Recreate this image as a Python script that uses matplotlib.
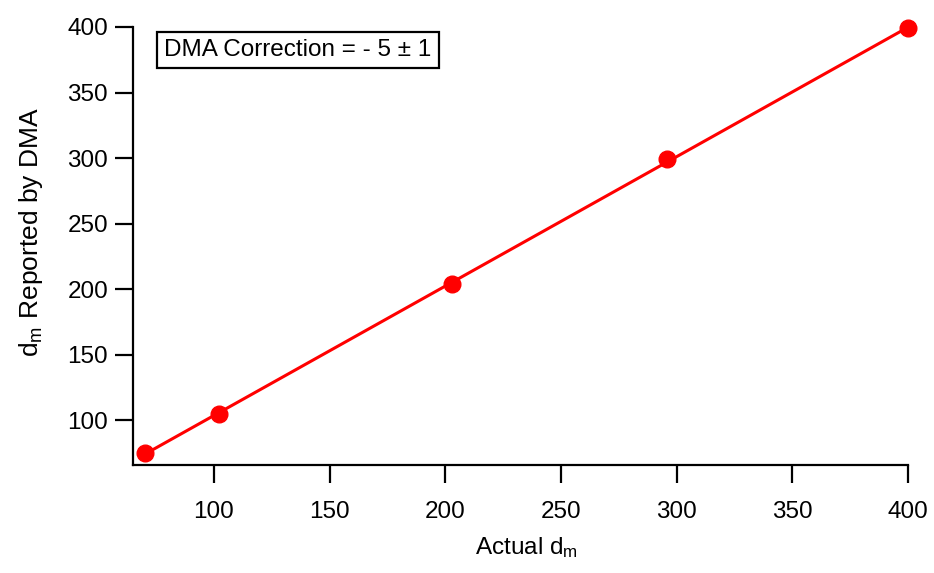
import numpy as np
import matplotlib
matplotlib.use("Agg")
import matplotlib.pyplot as plt

plt.rcParams['font.family'] = ['Liberation Sans', 'DejaVu Sans']
plt.rcParams['mathtext.fontset'] = 'custom'
plt.rcParams['mathtext.rm'] = 'Liberation Sans'
plt.rcParams['mathtext.it'] = 'Liberation Sans'

# Calibration data: actual mobility diameter vs. value reported by the DMA
actual_dm = [70, 102, 203, 296, 400]
reported_dm = [75, 105, 204, 299, 399]

x_ticks = [100, 150, 200, 250, 300, 350, 400]
y_ticks = [100, 150, 200, 250, 300, 350, 400]

fig = plt.figure(figsize=(9.34, 5.73), dpi=100)
ax = fig.add_axes([0.1424, 0.1885, 0.8296, 0.7645])

# Linear fit through the calibration points
slope, intercept = np.polyfit(actual_dm, reported_dm, 1)
xf = np.array([min(actual_dm), max(actual_dm)])
ax.plot(xf, slope * xf + intercept, color='#ff0000', lw=2.2, zorder=2, clip_on=False)
ax.plot(actual_dm, reported_dm, 'o', color='#ff0000', ms=12, mec='#ff0000',
        zorder=3, clip_on=False)

ax.set_xlim(65, 400)
ax.set_ylim(66, 400)
ax.set_xticks(x_ticks)
ax.set_yticks(y_ticks)

for side in ('top', 'right'):
    ax.spines[side].set_visible(False)
for side in ('left', 'bottom'):
    ax.spines[side].set_linewidth(1.6)
ax.tick_params(direction='out', length=13, width=1.6, labelsize=17.5)
ax.tick_params(axis='x', pad=13)
ax.tick_params(axis='y', pad=5)

ax.set_xlabel('Actual d$_\\mathrm{m}$', fontsize=17.5, labelpad=4)
ax.xaxis.set_label_coords(0.508, -0.16)
ax.set_ylabel('d$_\\mathrm{m}$ Reported by DMA', fontsize=19)
ax.yaxis.set_label_coords(-0.114, 0.532)

ax.text(0.213, 0.947, 'DMA Correction = - 5 \u00b1 1', transform=ax.transAxes,
        ha='center', va='center', fontsize=17.5,
        bbox=dict(boxstyle='square,pad=0.3', fc='white', ec='black', lw=1.6))

fig.savefig('out.png', dpi=100)
